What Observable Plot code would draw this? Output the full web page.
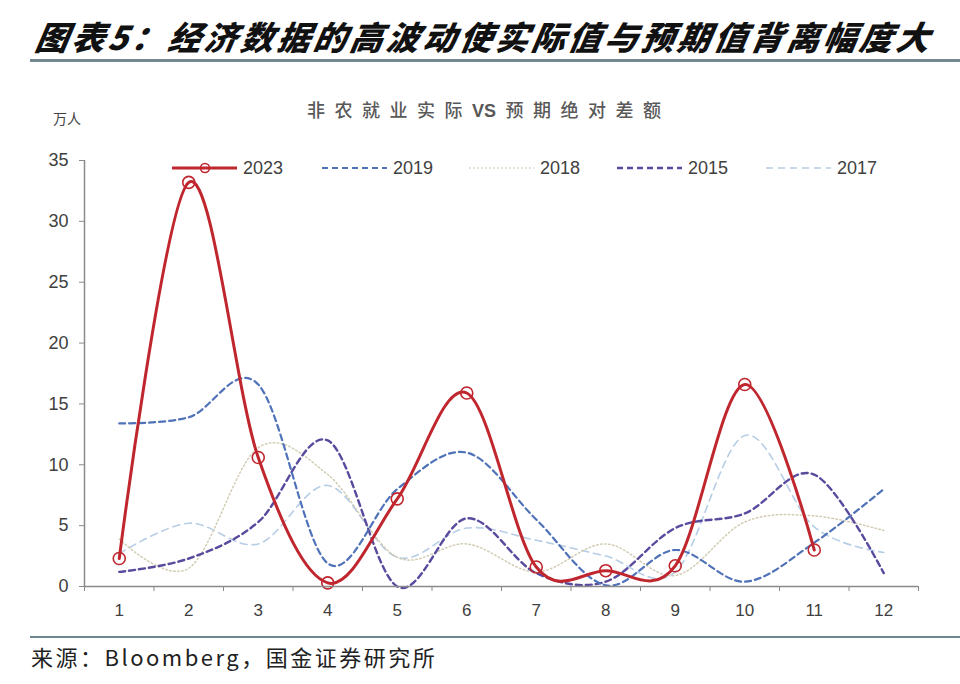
<!DOCTYPE html>
<html>
<head>
<meta charset="utf-8">
<script src="https://cdn.jsdelivr.net/npm/d3@7"></script>
<script src="https://cdn.jsdelivr.net/npm/@observablehq/plot@0.6"></script>
<style>
  html, body { margin: 0; padding: 0; background: #fff; }
  #page { position: relative; width: 960px; height: 684px; overflow: hidden; font-family: "Liberation Sans", Arial, sans-serif; }
  #chart { position: absolute; left: 0; top: 0; }
  .abs { position: absolute; white-space: nowrap; }
  #title { left: 32px; top: 12px; font-family: "Noto Sans CJK SC", sans-serif; font-weight: 900; font-style: italic; font-size: 33px; letter-spacing: 3.4px; color: #111; transform: skewX(-10deg); transform-origin: left bottom; }
  #rule1 { left: 30px; top: 59px; width: 930px; height: 3px; background: #74898f; }
  #rule2 { left: 30px; top: 636px; width: 930px; height: 2px; background: #6d8791; }
  #subtitle { left: 307px; top: 96px; font-family: "Noto Sans CJK SC", sans-serif; font-weight: 500; font-size: 18px; letter-spacing: 9.5px; color: #595959; }
  #subtitle .vs { letter-spacing: 0px; margin-right: 9.5px; font-family: "Liberation Sans", Arial, sans-serif; font-weight: 700; }
  #unit { left: 53px; top: 108px; font-family: "Noto Sans CJK SC", sans-serif; font-size: 14px; color: #444; }
  #caption { left: 31px; top: 640px; font-family: "Noto Sans CJK SC", sans-serif; font-size: 22px; color: #222; letter-spacing: 2.5px; }
  .leg { position: absolute; top: 157px; height: 22px; display: flex; align-items: center; font-size: 18px; color: #404040; }
  .leg svg { margin-right: 6px; }
</style>
</head>
<body>
<div id="page">
  <div id="chart"></div>
  <div id="title" class="abs">图表5：经济数据的高波动使实际值与预期值背离幅度大</div>
  <div id="rule1" class="abs"></div>
  <div id="subtitle" class="abs">非农就业实际<span class="vs">VS</span>预期绝对差额</div>
  <div id="unit" class="abs">万人</div>
  <div id="legend"></div>
  <div id="rule2" class="abs"></div>
  <div id="caption" class="abs">来源：Bloomberg，国金证券研究所</div>
</div>
<script>
// ---- data ----
const months = [1, 2, 3, 4, 5, 6, 7, 8, 9, 10, 11, 12];
const seriesNames = ["2023", "2019", "2018", "2015", "2017"];
const v2023 = [2.3, 33.2, 10.6, 0.3, 7.2, 15.9, 1.6, 1.3, 1.7, 16.6, 3.0];
const v2019 = [13.4, 13.9, 16.6, 1.9, 8.0, 11.0, 5.5, 0.1, 3.0, 0.4, 3.6, 8.0];
const v2018 = [3.9, 1.5, 11.4, 9.2, 2.4, 3.5, 1.2, 3.5, 0.9, 5.3, 5.8, 4.6];
const v2015 = [1.2, 2.3, 5.3, 12.0, 0.0, 5.6, 1.1, 0.4, 4.8, 6.0, 9.2, 1.1];
const v2017 = [2.7, 5.2, 3.5, 8.3, 2.4, 4.8, 3.8, 2.5, 1.2, 12.4, 4.9, 2.8];
const yTicks = [0, 5, 10, 15, 20, 25, 30, 35];

// ---- styles ----
const styles = {
  "2023": {stroke: "#c0262d", strokeWidth: 3, dash: null},
  "2019": {stroke: "#4f72b8", strokeWidth: 2.2, dash: "6,4"},
  "2018": {stroke: "#d2ccb4", strokeWidth: 1.5, dash: "1.5,2.5"},
  "2015": {stroke: "#5a4a9e", strokeWidth: 2.4, dash: "6,4"},
  "2017": {stroke: "#b6cde6", strokeWidth: 1.6, dash: "7,5"}
};
const valuesByName = {"2023": v2023, "2019": v2019, "2018": v2018, "2015": v2015, "2017": v2017};
const rows = name => valuesByName[name].map((v, i) => ({month: months[i], value: v}));

const boundaries = d3.range(0.5, 12.6, 1);
const drawOrder = ["2017", "2018", "2015", "2019", "2023"];

const lineMarks = drawOrder.map(name => Plot.line(rows(name), {
  x: "month", y: "value", curve: "cardinal",
  stroke: styles[name].stroke, strokeWidth: styles[name].strokeWidth,
  strokeDasharray: styles[name].dash
}));

const chart = Plot.plot({
  width: 960,
  height: 684,
  marginLeft: 84,
  marginRight: 42,
  marginTop: 160,
  marginBottom: 98,
  style: {fontFamily: "'Liberation Sans', Arial, sans-serif", fontSize: "18px", background: "transparent", overflow: "visible"},
  x: {domain: [0.5, 12.5]},
  y: {domain: [0, 35]},
  marks: [
    Plot.axisY({ticks: yTicks, tickSize: 5, tickPadding: 11, stroke: "#8a8a8a", fill: "#404040", label: null, fontSize: 18}),
    Plot.axisX({ticks: boundaries, tickSize: 5, tickFormat: () => "", stroke: "#8a8a8a", label: null}),
    Plot.axisX({ticks: months, tickSize: 0, tickPadding: 17, fill: "#404040", label: null, fontSize: 17, tickFormat: d => String(d)}),
    ...lineMarks,
    Plot.dot(rows("2023"), {x: "month", y: "value", r: 6, stroke: styles["2023"].stroke, strokeWidth: 1.6, fill: "none"}),
    Plot.ruleX([0.5], {stroke: "#8a8a8a", strokeWidth: 1.5}),
    Plot.ruleY([0], {stroke: "#8a8a8a", strokeWidth: 1.5})
  ]
});
document.getElementById("chart").appendChild(chart);

// ---- legend ----
const legendX = {"2023": 172, "2019": 322, "2018": 469, "2015": 617, "2017": 766};
const legend = document.getElementById("legend");
for (const name of seriesNames) {
  const s = styles[name];
  const item = document.createElement("div");
  item.className = "leg";
  item.style.left = legendX[name] + "px";
  const marker = name === "2023" ? `<circle cx="33" cy="11" r="4.5" fill="none" stroke="${s.stroke}" stroke-width="1.6"/>` : "";
  item.innerHTML = `<svg width="65" height="22"><line x1="0" x2="65" y1="11" y2="11" stroke="${s.stroke}" stroke-width="${s.strokeWidth}" ${s.dash ? `stroke-dasharray="${s.dash}"` : ""}/>${marker}</svg><span>${name}</span>`;
  legend.appendChild(item);
}
</script>
</body>
</html>
